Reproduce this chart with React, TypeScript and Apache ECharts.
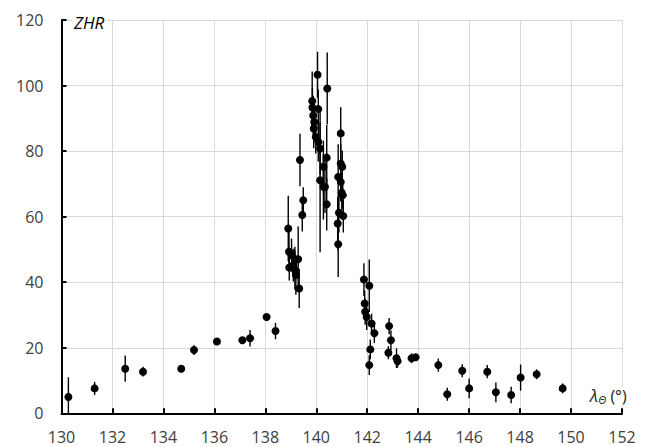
import React, { useEffect, useRef } from "react";
import * as echarts from "echarts";

// Solar longitude (deg)
const solLong: number[] = [
  130.27, 131.3, 132.5, 133.2, 134.7, 135.2, 136.1, 137.1, 137.4, 138.05, 138.4,
  138.9, 138.93, 138.94, 139.03, 139.1, 139.16, 139.16, 139.2, 139.29, 139.33,
  139.36, 139.45, 139.49, 139.84, 139.85, 139.88, 139.92, 139.9, 139.98, 140.05,
  140.08, 140.08, 140.15, 140.15, 140.28, 140.28, 140.34, 140.41, 140.41, 140.43,
  140.84, 140.86, 140.86, 140.89, 140.96, 140.96, 140.96, 141.0, 141.02, 141.04,
  141.06, 141.87, 141.9, 141.92, 141.98, 142.08, 142.08, 142.12, 142.17, 142.28,
  142.83, 142.86, 142.93, 143.15, 143.19, 143.74, 143.9, 144.79, 145.14, 145.73,
  146.0, 146.71, 147.05, 147.65, 148.02, 148.65, 149.67,
];
// ZHR values
const zhr: number[] = [
  5.0, 7.6, 13.6, 12.7, 13.6, 19.3, 21.9, 22.3, 22.9, 29.4, 25.1,
  56.4, 49.3, 44.5, 48.3, 45.2, 46.8, 43.7, 42.2, 47.0, 38.1,
  77.3, 60.5, 65.0, 95.3, 93.3, 90.9, 88.9, 86.9, 84.3, 103.3,
  92.8, 82.8, 80.8, 71.1, 75.2, 69.1, 69.1, 78.0, 63.8, 99.1,
  57.9, 72.1, 51.6, 61.2, 85.4, 76.2, 70.6, 67.3, 75.2, 66.5,
  60.2, 40.8, 33.5, 31.0, 29.4, 38.9, 14.7, 19.5, 27.4, 24.4,
  18.5, 26.6, 22.3, 16.8, 15.9, 16.8, 17.1, 14.7, 5.8, 13.0,
  7.6, 12.7, 6.4, 5.6, 10.9, 11.9, 7.6,
];
// ZHR uncertainty (±)
const zhrErr: number[] = [
  6, 2, 4, 1.5, 0.8, 1.5, 1, 1, 2.5, 1, 2.5,
  10, 6, 4, 5, 5, 4, 6, 6, 10, 6,
  8, 5, 4, 9, 6, 6, 5, 6, 5, 7,
  6, 6, 8, 22, 8, 10, 8, 10, 8, 11,
  8, 10, 10, 6, 8, 6, 6, 6, 5, 4,
  5, 5, 4, 4, 4, 8, 3, 3, 3, 3,
  2, 2.5, 3, 3, 2, 1.5, 1, 2, 2, 2,
  3, 2, 3, 2.5, 4, 1.5, 1.5,
];

const xTicks = { min: 130, max: 152, interval: 2 };
const yTicks = { min: 0, max: 120, interval: 20 };

export default function App() {
  const ref = useRef<HTMLDivElement>(null);
  useEffect(() => {
    if (!ref.current) return;
    const chart = echarts.init(ref.current, undefined, { renderer: "svg" });
    const points = solLong.map((x, i) => [x, zhr[i]]);
    const bars = solLong.map((x, i) => [x, Math.max(0, zhr[i] - zhrErr[i]), zhr[i] + zhrErr[i]]);
    const font = "'Open Sans', 'Noto Sans', sans-serif";
    chart.setOption({
      animation: false,
      backgroundColor: "#fff",
      grid: { left: 61.5, right: 29, top: 20, bottom: 33.7, containLabel: false },
      xAxis: {
        type: "value",
        min: xTicks.min,
        max: xTicks.max,
        interval: xTicks.interval,
        axisLine: { show: true, onZero: false, lineStyle: { color: "#000", width: 2 } },
        axisTick: { show: true, inside: true, length: 5, lineStyle: { color: "#000", width: 2 } },
        axisLabel: { color: "#404040", fontSize: 16, fontFamily: font, margin: 16 },
        splitLine: { show: true, lineStyle: { color: "#d9d9d9", width: 1 } },
      },
      yAxis: {
        type: "value",
        min: yTicks.min,
        max: yTicks.max,
        interval: yTicks.interval,
        axisLine: { show: true, onZero: false, lineStyle: { color: "#000", width: 2 } },
        axisTick: { show: true, inside: true, length: 5, lineStyle: { color: "#000", width: 2 } },
        axisLabel: { color: "#404040", fontSize: 16, fontFamily: font, margin: 18 },
        splitLine: { show: true, lineStyle: { color: "#d9d9d9", width: 1 } },
      },
      graphic: [
        {
          type: "text",
          left: 72,
          top: 14,
          z: 100,
          style: {
            text: "ZHR",
            font: `italic 17px ${font}`,
            fill: "#000",
            backgroundColor: "#fff",
            padding: [0, 2, 0, 2],
          },
        },
        {
          type: "text",
          left: 590,
          top: 386,
          z: 100,
          style: {
            text: "{l|λ}{s|Θ}{n| (°)}",
            backgroundColor: "#fff",
            rich: {
              l: { font: `italic 17px ${font}`, fill: "#222" },
              s: { font: `italic 11px ${font}`, fill: "#222", verticalAlign: "bottom", padding: [8, 0, 0, 0] },
              n: { font: `16px ${font}`, fill: "#222" },
            },
          },
        },
      ],
      series: [
        {
          type: "custom",
          data: bars,
          encode: { x: 0, y: [1, 2] },
          z: 2,
          renderItem: (params: any, api: any) => {
            const x = api.value(0);
            const p1 = api.coord([x, api.value(1)]);
            const p2 = api.coord([x, api.value(2)]);
            return {
              type: "line",
              shape: { x1: p1[0], y1: p1[1], x2: p2[0], y2: p2[1] },
              style: { stroke: "#000", lineWidth: 1.4 },
            };
          },
        },
        {
          type: "scatter",
          data: points,
          symbol: "circle",
          symbolSize: 8,
          itemStyle: { color: "#000", opacity: 1 },
          z: 3,
        },
      ],
    });
    return () => chart.dispose();
  }, []);
  return <div ref={ref} style={{ position: "fixed", left: 0, top: 0, width: 651, height: 447 }} />;
}
